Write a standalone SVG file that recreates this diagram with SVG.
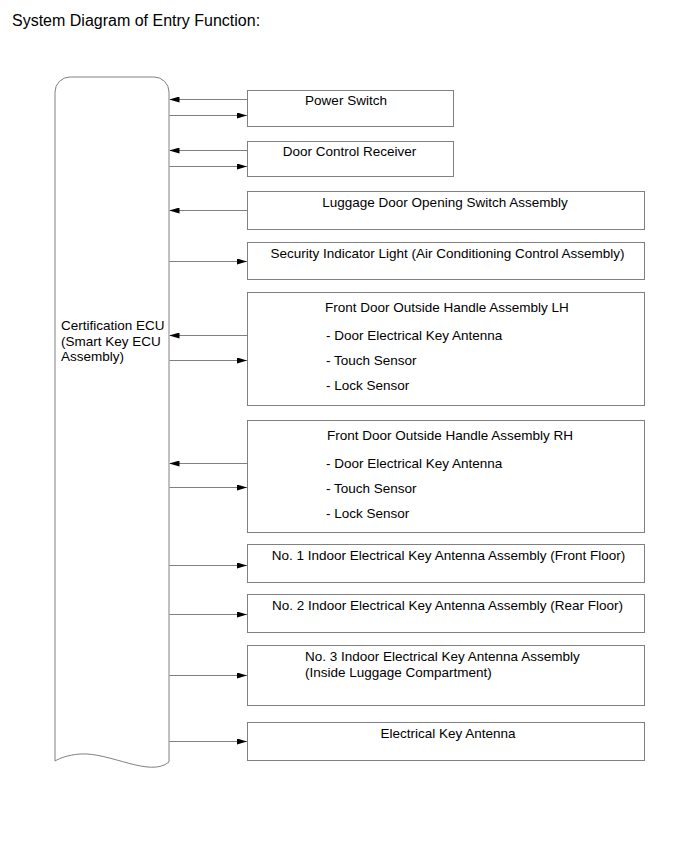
<svg xmlns="http://www.w3.org/2000/svg" width="691" height="855" viewBox="0 0 691 855">
<style>
  text { font-family: "Liberation Sans", Arial, sans-serif; font-size: 13.5px; fill: #000; }
  .title { font-size: 16px; }
  .box { fill: #fff; stroke: #808080; stroke-width: 1; }
  .ecu { fill: #fff; stroke: #808080; stroke-width: 1; }
  .conn { stroke: #808080; stroke-width: 1; fill: none; marker-end: url(#ah); }
  .c { text-anchor: middle; }
</style>
<defs>
  <marker id="ah" viewBox="0 0 10 6" refX="10" refY="3" markerWidth="10" markerHeight="6" markerUnits="userSpaceOnUse" orient="auto">
    <path d="M0,0 L10,3 L0,6 z" fill="#000"/>
  </marker>
</defs>
<rect width="691" height="855" fill="#fff"/>
<text class="title" x="12" y="26">System Diagram of Entry Function:</text>

<g id="ecu">
  <path class="ecu" d="M55,92 A15,15 0 0 1 70,77 H154 A15,15 0 0 1 169,92 V762 C150,778 110,752 80,754 C68,755 60,758 55,761 Z"/>
  <text x="61" y="330">Certification ECU</text>
  <text x="61" y="346">(Smart Key ECU</text>
  <text x="61" y="361">Assembly)</text>
</g>

<g id="power-switch">
  <rect class="box" x="247.5" y="90.5" width="206" height="36"/>
  <text class="c" x="346" y="105">Power Switch</text>
</g>
<g id="door-control-receiver">
  <rect class="box" x="247.5" y="141.5" width="206" height="35"/>
  <text class="c" x="349.5" y="156">Door Control Receiver</text>
</g>
<g id="luggage-switch">
  <rect class="box" x="247.5" y="191.5" width="397" height="38"/>
  <text class="c" x="445" y="207">Luggage Door Opening Switch Assembly</text>
</g>
<g id="security-indicator">
  <rect class="box" x="247.5" y="242.5" width="397" height="37"/>
  <text class="c" x="447.5" y="258">Security Indicator Light (Air Conditioning Control Assembly)</text>
</g>
<g id="front-door-lh">
  <rect class="box" x="247.5" y="292.5" width="397" height="113"/>
  <text x="325" y="312">Front Door Outside Handle Assembly LH</text>
  <text x="326" y="340">- Door Electrical Key Antenna</text>
  <text x="326" y="365">- Touch Sensor</text>
  <text x="326" y="390">- Lock Sensor</text>
</g>
<g id="front-door-rh">
  <rect class="box" x="247.5" y="420.5" width="397" height="112"/>
  <text x="327" y="440">Front Door Outside Handle Assembly RH</text>
  <text x="326" y="468">- Door Electrical Key Antenna</text>
  <text x="326" y="493">- Touch Sensor</text>
  <text x="326" y="518">- Lock Sensor</text>
</g>
<g id="indoor-antenna-1">
  <rect class="box" x="247.5" y="544.5" width="397" height="38"/>
  <text class="c" x="448.5" y="560">No. 1 Indoor Electrical Key Antenna Assembly (Front Floor)</text>
</g>
<g id="indoor-antenna-2">
  <rect class="box" x="247.5" y="594.5" width="397" height="38"/>
  <text class="c" x="447.5" y="610">No. 2 Indoor Electrical Key Antenna Assembly (Rear Floor)</text>
</g>
<g id="indoor-antenna-3">
  <rect class="box" x="247.5" y="645.5" width="397" height="60"/>
  <text x="305" y="661">No. 3 Indoor Electrical Key Antenna Assembly</text>
  <text x="305" y="677">(Inside Luggage Compartment)</text>
</g>
<g id="electrical-key-antenna">
  <rect class="box" x="247.5" y="722.5" width="397" height="38"/>
  <text class="c" x="448" y="738">Electrical Key Antenna</text>
</g>

<g id="connectors">
  <line class="conn" x1="247" y1="99.5" x2="169.5" y2="99.5"/>
  <line class="conn" x1="169.5" y1="115.5" x2="247" y2="115.5"/>
  <line class="conn" x1="247" y1="150.5" x2="169.5" y2="150.5"/>
  <line class="conn" x1="169.5" y1="166.5" x2="247" y2="166.5"/>
  <line class="conn" x1="247" y1="210.5" x2="169.5" y2="210.5"/>
  <line class="conn" x1="169.5" y1="261.5" x2="247" y2="261.5"/>
  <line class="conn" x1="247" y1="335.5" x2="169.5" y2="335.5"/>
  <line class="conn" x1="169.5" y1="360.5" x2="247" y2="360.5"/>
  <line class="conn" x1="247" y1="463.5" x2="169.5" y2="463.5"/>
  <line class="conn" x1="169.5" y1="487.5" x2="247" y2="487.5"/>
  <line class="conn" x1="169.5" y1="565.5" x2="247" y2="565.5"/>
  <line class="conn" x1="169.5" y1="614.5" x2="247" y2="614.5"/>
  <line class="conn" x1="169.5" y1="675.5" x2="247" y2="675.5"/>
  <line class="conn" x1="169.5" y1="741.5" x2="247" y2="741.5"/>
</g>
</svg>
